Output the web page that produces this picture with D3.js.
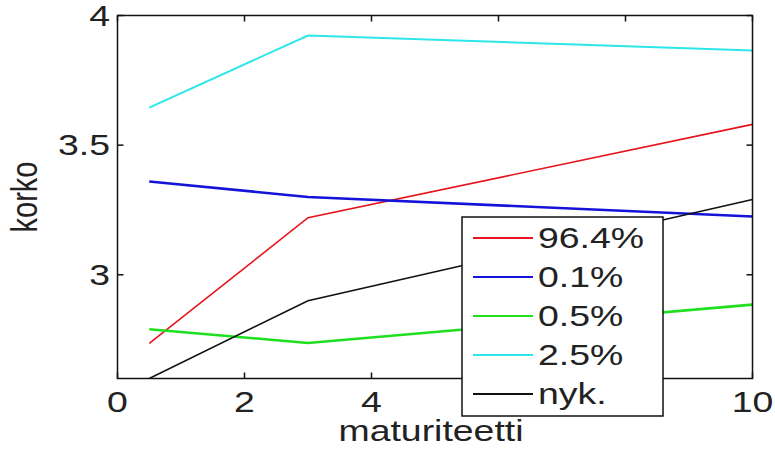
<!DOCTYPE html>
<html>
<head>
<meta charset="utf-8">
<script src="https://cdnjs.cloudflare.com/ajax/libs/d3/7.8.5/d3.min.js"></script>
<style>
body { margin: 0; background: #fff; }
text { font-family: Arial, "Liberation Sans", sans-serif; fill: #222; }
</style>
</head>
<body>
<div id="chart"></div>
<script>
// maturities and yield curves
let maturities = [0.5, 3, 10]
let seriesNames = ["96.4%", "0.1%", "0.5%", "2.5%", "nyk."]
let r964 = [2.735, 3.22, 3.58]
let r01 = [3.36, 3.30, 3.225]
let r05 = [2.79, 2.737, 2.885]
let r25 = [3.645, 3.923, 3.865]
let rNyk = [2.6, 2.9, 3.29]
let xTicks = [0, 2, 4, 6, 8, 10]
let yTicks = [3, 3.5, 4]

let W = 775, H = 450
let sx = 1.29 // picture is stretched sideways
let fs = 29

let svg = d3.select("#chart").append("svg")
    .attr("width", W)
    .attr("height", H)

let pL = 117.5, pR = 752.5, pT = 15.5, pB = 378.5
let x = d3.scaleLinear().domain([0, 10]).range([pL, pR])
let y = d3.scaleLinear().domain([2.6, 4]).range([pB, pT])

function label(px, py, str, anchor, rot){
    svg.append("text")
        .attr("transform", "translate(" + px + "," + py + ") scale(" + sx + ",1)" + (rot ? " rotate(" + rot + ")" : ""))
        .attr("text-anchor", anchor)
        .style("font-size", fs + "px")
        .text(str)
}

svg.append("clipPath").attr("id", "clip")
    .append("rect").attr("x", pL).attr("y", pT).attr("width", pR-pL).attr("height", pB-pT)

let series = [
    {name: seriesNames[0], vals: r964, color: "#e8141c", w: 1.6},
    {name: seriesNames[1], vals: r01, color: "#1414d8", w: 2.6},
    {name: seriesNames[2], vals: r05, color: "#1ee01e", w: 2.6},
    {name: seriesNames[3], vals: r25, color: "#2ee6ea", w: 2},
    {name: seriesNames[4], vals: rNyk, color: "#111", w: 1.6}
]

let line = d3.line().x(d => x(d[0])).y(d => y(d[1]))
let g = svg.append("g").attr("clip-path", "url(#clip)")
for(let s of series){
    g.append("path")
        .attr("d", line(maturities.map((m, i) => [m, s.vals[i]])))
        .style("fill", "none")
        .style("stroke", s.color)
        .style("stroke-width", s.w)
}

// axes with inward ticks on all sides
let tl = 6
let ax = svg.append("g").style("stroke", "#111").style("stroke-width", 1.5)
for(let t of xTicks){
    ax.append("line").attr("x1", x(t)).attr("x2", x(t)).attr("y1", pB).attr("y2", pB - tl)
    ax.append("line").attr("x1", x(t)).attr("x2", x(t)).attr("y1", pT).attr("y2", pT + tl)
}
for(let t of yTicks){
    ax.append("line").attr("x1", pL).attr("x2", pL + tl).attr("y1", y(t)).attr("y2", y(t))
    ax.append("line").attr("x1", pR).attr("x2", pR - tl).attr("y1", y(t)).attr("y2", y(t))
}
ax.append("rect").attr("x", pL).attr("y", pT).attr("width", pR-pL).attr("height", pB-pT)
    .style("fill", "none")

for(let t of xTicks) label(x(t), 412, t, "middle")
for(let t of yTicks) label(110, y(t) + 10, t, "end")
label((pL+pR)/2 - 4, 441, "maturiteetti", "middle")
label(37, 197, "korko", "middle", -90)

// legend
let lg = svg.append("g")
lg.append("rect").attr("x", 462).attr("y", 217).attr("width", 201).attr("height", 199)
    .style("fill", "#fff").style("stroke", "#111").style("stroke-width", 1.5)
series.forEach((s, i) => {
    let ly = 238 + i * 39
    lg.append("line").attr("x1", 473).attr("x2", 533).attr("y1", ly).attr("y2", ly)
        .style("stroke", s.color).style("stroke-width", 1.8)
    label(538, ly + 10, s.name, "start")
})
</script>
</body>
</html>
